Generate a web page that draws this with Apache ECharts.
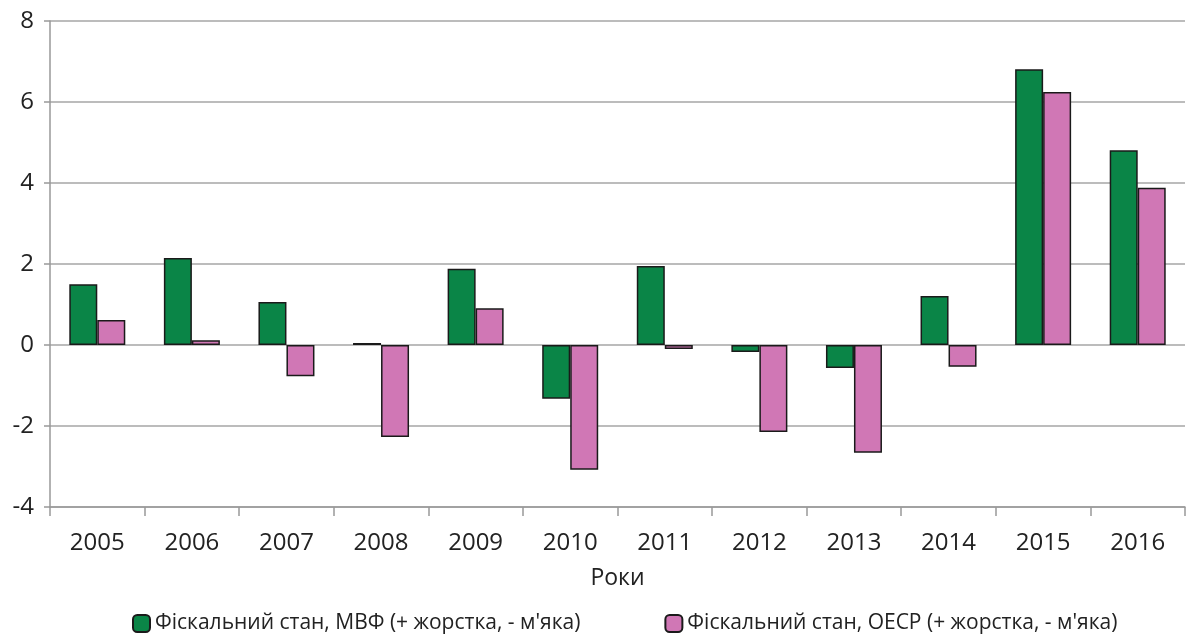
<!DOCTYPE html>
<html>
<head>
<meta charset="utf-8">
<script src="https://cdn.jsdelivr.net/npm/echarts@6/dist/echarts.min.js"></script>
<style>
  html, body { margin: 0; padding: 0; background: #fff; }
  #chart { width: 1186px; height: 636px; }
</style>
</head>
<body>
<div id="chart"></div>
<script>
const years = ['2005', '2006', '2007', '2008', '2009', '2010', '2011', '2012', '2013', '2014', '2015', '2016'];
const imfValues = [1.5, 2.15, 1.06, 0.05, 1.88, -1.33, 1.95, -0.17, -0.57, 1.21, 6.81, 4.81];
const oecdValues = [0.62, 0.12, -0.77, -2.27, 0.91, -3.08, -0.1, -2.15, -2.66, -0.54, 6.25, 3.88];
const imfName = 'Фіскальний стан, МВФ (+ жорстка, - м\'яка)';
const oecdName = 'Фіскальний стан, ОЕСР (+ жорстка, - м\'яка)';

const chart = echarts.init(document.getElementById('chart'));
const font = '"Open Sans", sans-serif';

chart.setOption({
    animation: false,
    textStyle: { fontFamily: font },
    grid: { left: 50, right: 1, top: 21, bottom: 129 },
    legend: {
        left: 127,
        top: 608,
        itemGap: 84,
        itemWidth: 17,
        itemHeight: 17,
        textStyle: { fontSize: 21, color: '#222', fontFamily: font },
        data: [imfName, oecdName]
    },
    xAxis: {
        type: 'category',
        data: years,
        name: 'Роки',
        nameLocation: 'middle',
        nameGap: 60,
        nameTextStyle: { fontSize: 23, color: '#222' },
        axisLine: { onZero: false, lineStyle: { color: '#999', width: 1.5 } },
        axisTick: { show: true, length: 9, lineStyle: { color: '#999', width: 1.5 } },
        axisLabel: { fontSize: 24, color: '#222', margin: 24 }
    },
    yAxis: {
        type: 'value',
        min: -4,
        max: 8,
        interval: 2,
        axisLine: { show: true, lineStyle: { color: '#999', width: 1.5 } },
        axisTick: { show: true, length: 6, lineStyle: { color: '#999', width: 1.5 } },
        axisLabel: { fontSize: 24, color: '#222', margin: 16 },
        splitLine: { lineStyle: { color: '#a6a6a6', width: 1.5 } }
    },
    series: [
        {
            name: imfName,
            type: 'bar',
            data: imfValues,
            barWidth: 28,
            barGap: '0%',
            itemStyle: { color: '#0a8547', borderColor: '#1a1a1a', borderWidth: 1.5 }
        },
        {
            name: oecdName,
            type: 'bar',
            data: oecdValues,
            barWidth: 28,
            itemStyle: { color: '#d077b5', borderColor: '#1a1a1a', borderWidth: 1.5 }
        }
    ]
});

window.addEventListener('resize', () => chart.resize());
</script>
</body>
</html>
